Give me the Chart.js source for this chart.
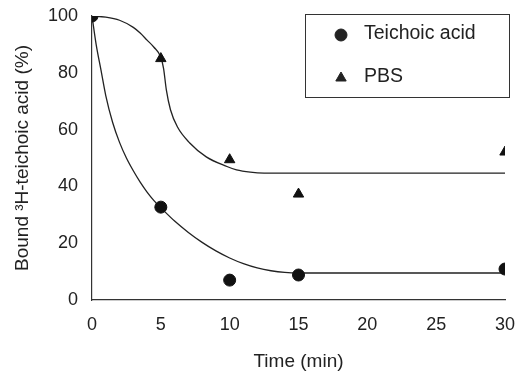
<!DOCTYPE html>
<html>
<head>
<meta charset="utf-8">
<script src="https://cdn.jsdelivr.net/npm/chart.js@4/dist/chart.umd.min.js"></script>
<style>
  html, body { margin: 0; padding: 0; background: #fff; }
  #wrap { width: 521px; height: 374px; }
</style>
</head>
<body>
<div id="wrap"><canvas id="c" width="521" height="374"></canvas></div>
<script>
// Measured data points
const timeMin = [0, 5, 10, 15, 30];
const teichoicAcid = [100, 32.7, 7.0, 8.8, 10.9];
const pbs = [100, 85, 49.4, 37.3, 52.1];

// Fitted curves
const teichoicCurveX = [0, 0.3, 0.65, 1, 1.5, 2, 2.5, 3, 3.5, 4, 4.5, 5, 6, 7, 8, 9, 10, 11, 12, 13, 14, 15, 30];
const teichoicCurveY = [100, 90, 81, 72, 62.5, 55.5, 50, 45.5, 41.5, 38, 35, 32.5, 27.8, 23.8, 20.3, 17.3, 14.8, 12.8, 11.3, 10.3, 9.7, 9.5, 9.5];
const pbsCurveX = [0, 1, 2, 3, 3.5, 4, 4.5, 5, 5.2, 5.4, 5.7, 6.2, 7.1, 8.3, 9.8, 10.5, 11.5, 12.5, 30];
const pbsCurveY = [100, 99.6, 98.5, 96, 94, 91.5, 89, 85.5, 81.5, 74, 67, 61, 55.3, 50.4, 47, 45.8, 45, 44.7, 44.7];

const xTicks = [0, 5, 10, 15, 20, 25, 30];
const yTicks = [0, 20, 40, 60, 80, 100];

const FONT = '"Liberation Sans", Arial, Helvetica, sans-serif';
const INK = '#222';

const toXY = (xs, ys) => xs.map((x, i) => ({ x: x, y: ys[i] }));

const legendBox = {
  id: 'legendBox',
  afterDraw(chart) {
    const ctx = chart.ctx;
    ctx.save();
    ctx.strokeStyle = '#333';
    ctx.lineWidth = 1;
    ctx.strokeRect(305.5, 14.5, 204, 83);
    const entries = [
      { ds: chart.data.datasets[0], y: 35 },
      { ds: chart.data.datasets[1], y: 78 }
    ];
    ctx.font = '19.5px ' + FONT;
    ctx.textBaseline = 'middle';
    ctx.textAlign = 'left';
    entries.forEach(e => {
      ctx.fillStyle = INK;
      ctx.strokeStyle = INK;
      Chart.helpers.drawPoint(ctx, {
        pointStyle: e.ds.pointStyle, radius: e.ds.pointRadius,
        rotation: 0, borderWidth: 1
      }, 341, e.y);
      ctx.fillStyle = INK;
      ctx.fillText(e.ds.label, 364, e.y - 1);
    });
    ctx.restore();
  }
};

new Chart(document.getElementById('c'), {
  type: 'scatter',
  data: {
    datasets: [
      {
        label: 'Teichoic acid',
        data: toXY(timeMin, teichoicAcid),
        pointStyle: 'circle', pointRadius: 6,
        backgroundColor: '#111', borderColor: '#111', borderWidth: 1,
        showLine: false, order: 0
      },
      {
        label: 'PBS',
        data: toXY(timeMin, pbs),
        pointStyle: 'triangle', pointRadius: 6,
        backgroundColor: '#111', borderColor: '#111', borderWidth: 1,
        showLine: false, order: 1
      },
      {
        label: 'Teichoic acid fit',
        data: toXY(teichoicCurveX, teichoicCurveY),
        showLine: true, pointRadius: 0, borderColor: INK, borderWidth: 1.3,
        cubicInterpolationMode: 'monotone', fill: false, order: 2
      },
      {
        label: 'PBS fit',
        data: toXY(pbsCurveX, pbsCurveY),
        showLine: true, pointRadius: 0, borderColor: INK, borderWidth: 1.3,
        cubicInterpolationMode: 'monotone', fill: false, order: 3
      }
    ]
  },
  options: {
    responsive: false,
    animation: false,
    devicePixelRatio: 1,
    layout: { padding: { left: 0, right: 16, top: 16, bottom: 0 } },
    plugins: {
      legend: { display: false },
      tooltip: { enabled: false }
    },
    scales: {
      x: {
        type: 'linear', min: 0, max: 30,
        afterFit: s => { s.height = 74; s.paddingRight = 0; s.paddingLeft = 0; },
        afterBuildTicks: s => { s.ticks = xTicks.map(v => ({ value: v })); },
        grid: { display: false, drawTicks: false },
        border: { display: true, color: '#333', width: 1.2 },
        ticks: { color: INK, font: { family: FONT, size: 18 }, padding: 14 },
        title: {
          display: true, text: 'Time (min)', color: INK,
          font: { family: FONT, size: 19 }, padding: { top: 0, bottom: 1 }
        }
      },
      y: {
        type: 'linear', min: 0, max: 100,
        afterFit: s => { s.width = 92; s.paddingTop = 0; s.paddingBottom = 0; },
        afterBuildTicks: s => { s.ticks = yTicks.map(v => ({ value: v })); },
        grid: { display: false, drawTicks: false },
        border: { display: true, color: '#333', width: 1.2 },
        ticks: { color: INK, font: { family: FONT, size: 18 }, padding: 14 },
        title: {
          display: true, text: 'Bound \u00B3H-teichoic acid (%)', color: INK,
          font: { family: FONT, size: 19 }, padding: { top: 11, bottom: 0 }
        }
      }
    }
  },
  plugins: [legendBox]
});
</script>
</body>
</html>
